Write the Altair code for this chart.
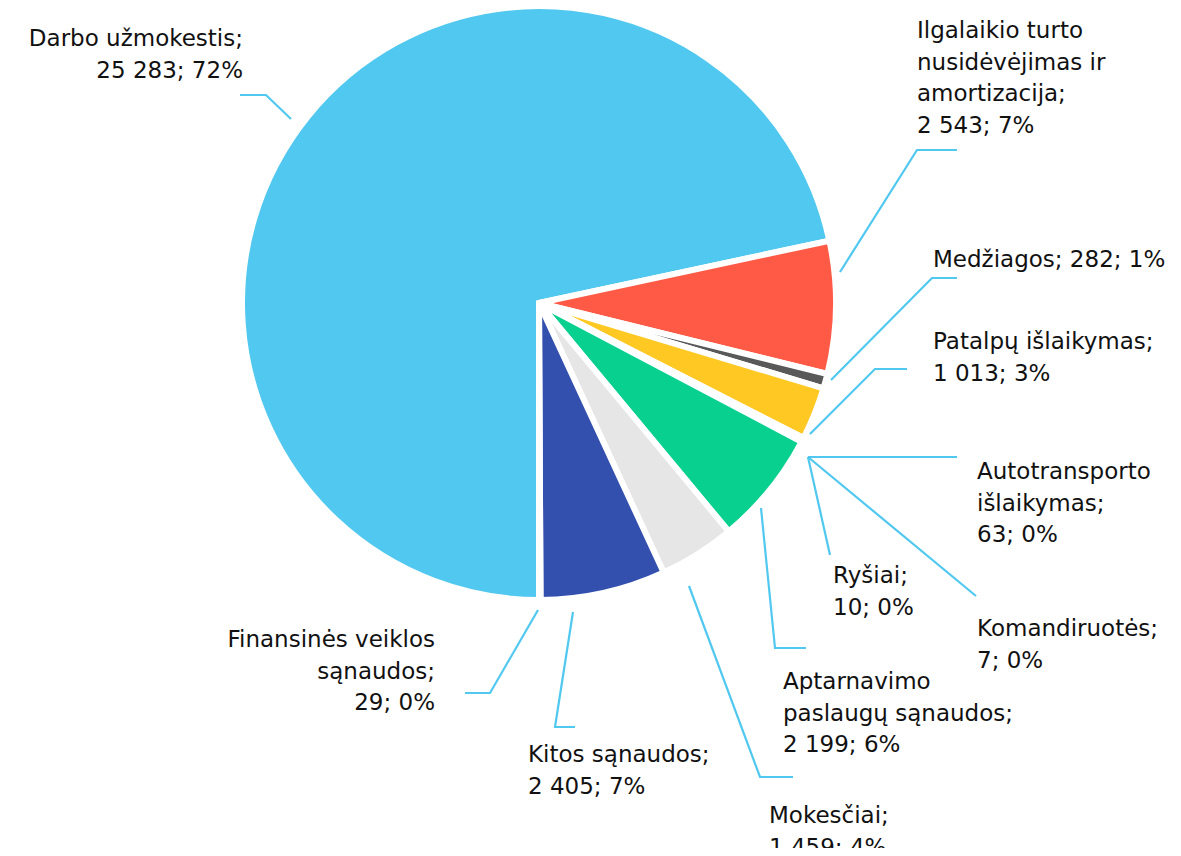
import math
import altair as alt
import pandas as pd

# ---------------- data ----------------
categories = [
    "Darbo užmokestis",
    "Ilgalaikio turto nusidėvėjimas ir amortizacija",
    "Medžiagos",
    "Patalpų išlaikymas",
    "Autotransporto išlaikymas",
    "Ryšiai",
    "Komandiruotės",
    "Aptarnavimo paslaugų sąnaudos",
    "Mokesčiai",
    "Kitos sąnaudos",
    "Finansinės veiklos sąnaudos",
]
values = [25283, 2543, 282, 1013, 63, 10, 7, 2199, 1459, 2405, 29]
colors = ["#50C8F0", "#FF5A46", "#595959", "#FFC822", "#2E86C1", "#8E7CC3",
          "#A0A0A0", "#08D08F", "#E6E6E6", "#3450AE", "#1F3A8A"]

# ---------------- layout (annotation placement, image pixels) ----------------
W, H = 1165, 840
CX, CY, R = 539, 303, 297
LINE_H = 31.5
FONT = "DejaVu Sans"
FS = 23
LEADER = "#50C8F0"

# per category: words per line of the name, separator before value, text anchor, align, leader polyline
layout = [
    dict(words=[2], sep="\n", x=243, y=46, align="right",
         leader=[(291, 119), (266, 95), (240, 95)]),
    dict(words=[2, 2, 1], sep="\n", x=917, y=38, align="left",
         leader=[(840, 272), (917, 150), (957, 150)]),
    dict(words=[1], sep=" ", x=933, y=267, align="left",
         leader=[(831, 380), (932, 278), (957, 278)]),
    dict(words=[2], sep="\n", x=933, y=349, align="left",
         leader=[(810, 434), (875, 369), (907, 369)]),
    dict(words=[1, 1], sep="\n", x=977, y=479, align="left",
         leader=[(808, 457), (957, 457)]),
    dict(words=[1], sep="\n", x=833, y=583, align="left",
         leader=[(808, 457), (830, 555)]),
    dict(words=[1], sep="\n", x=977, y=636, align="left",
         leader=[(808, 457), (976, 596)]),
    dict(words=[1, 2], sep="\n", x=783, y=689, align="left",
         leader=[(761, 508), (775, 648), (806, 648)]),
    dict(words=[1], sep="\n", x=769, y=823, align="left",
         leader=[(689, 586), (760, 777), (793, 777)]),
    dict(words=[2], sep="\n", x=528, y=762, align="left",
         leader=[(573, 612), (555, 727), (575, 727)]),
    dict(words=[2, 1], sep="\n", x=435, y=647, align="right",
         leader=[(538, 610), (490, 693), (465, 693)]),
]

total = sum(values)


def fmt_num(v):
    return f"{v:,}".replace(",", " ")


def label_text(name, v, spec):
    words = name.split(" ")
    lines, i = [], 0
    for n in spec["words"]:
        lines.append(" ".join(words[i:i + n]))
        i += n
    return "\n".join(lines) + ";" + spec["sep"] + f"{fmt_num(v)}; {round(v / total * 100)}%"


pie_df = pd.DataFrame({"cat": categories, "value": values, "ord": list(range(len(values)))})

text_rows, line_rows = [], []
for i, (c, v, spec) in enumerate(zip(categories, values, layout)):
    text_rows.append(dict(cat=c, x=spec["x"], y=spec["y"], txt=label_text(c, v, spec), align=spec["align"]))
    for j, (px, py) in enumerate(spec["leader"]):
        line_rows.append(dict(cat=c, seq=j, x=px, y=py))
text_df = pd.DataFrame(text_rows)
line_df = pd.DataFrame(line_rows)

xs = alt.Scale(domain=[8, 8 + W], nice=False, zero=False)
ys = alt.Scale(domain=[8, 8 + H], nice=False, zero=False, reverse=True)

pie = alt.Chart(pie_df).mark_arc(radius=R, stroke="white", strokeWidth=6).encode(
    theta=alt.Theta("value:Q", stack=True, scale=alt.Scale(range=[math.pi, 3 * math.pi])),
    order=alt.Order("ord:Q", sort="ascending"),
    color=alt.Color("cat:N", scale=alt.Scale(domain=categories, range=colors), legend=None),
    x=alt.value(CX - 8),
    y=alt.value(CY - 8),
)

leaders = alt.Chart(line_df).mark_line(color=LEADER, strokeWidth=2.2).encode(
    x=alt.X("x:Q", scale=xs, axis=None),
    y=alt.Y("y:Q", scale=ys, axis=None),
    detail="cat:N",
    order="seq:Q",
)

text_left = alt.Chart(text_df[text_df["align"] == "left"]).mark_text(
    align="left", baseline="alphabetic", lineBreak="\n", lineHeight=LINE_H,
    font=FONT, fontSize=FS, color="#111111",
).encode(x=alt.X("x:Q", scale=xs, axis=None), y=alt.Y("y:Q", scale=ys, axis=None), text="txt:N")

text_right = alt.Chart(text_df[text_df["align"] == "right"]).mark_text(
    align="right", baseline="alphabetic", lineBreak="\n", lineHeight=LINE_H,
    font=FONT, fontSize=FS, color="#111111",
).encode(x=alt.X("x:Q", scale=xs, axis=None), y=alt.Y("y:Q", scale=ys, axis=None), text="txt:N")

chart = alt.layer(pie, leaders, text_left, text_right).properties(
    width=W, height=H, padding=0, autosize=alt.AutoSizeParams(type="none"),
).configure_view(stroke=None).resolve_scale(color="independent")

chart.save("out.html", embed_options={"renderer": "svg", "actions": False})
